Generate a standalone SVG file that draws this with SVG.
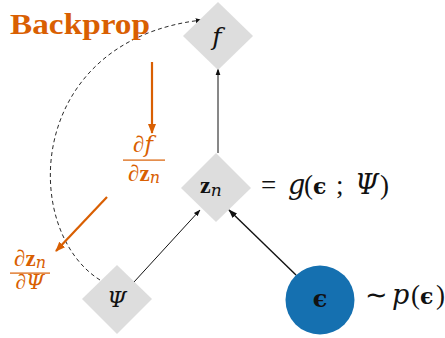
<svg xmlns="http://www.w3.org/2000/svg" width="445" height="338" viewBox="0 0 445 338">
<defs>
<style>
.dia{fill:#dddddd}
text{font-family:'Liberation Serif',serif}
.i{font-family:'DejaVu Serif',serif;font-style:italic}
.e{font-family:'DejaVu Serif',serif;font-weight:bold}
.edge{stroke:#111;fill:none}
.oe{stroke:#d95f02;stroke-width:2.2;fill:none}
</style>
<marker id="ah" viewBox="0 0 10 10" refX="9" refY="5" markerWidth="7" markerHeight="7" markerUnits="userSpaceOnUse" orient="auto"><path d="M0,1.5 L10,5 L0,8.5 Z" fill="#111"/></marker>
<marker id="ah2" viewBox="0 0 10 10" refX="9" refY="5" markerWidth="9" markerHeight="9" markerUnits="userSpaceOnUse" orient="auto"><path d="M0,1.5 L10,5 L0,8.5 Z" fill="#111"/></marker>
<marker id="oh" viewBox="0 0 10 10" refX="9" refY="5" markerWidth="10" markerHeight="10" markerUnits="userSpaceOnUse" orient="auto"><path d="M0,1 L10,5 L0,9 Z" fill="#d95f02"/></marker>
</defs>
<g id="connectors">
<line class="edge" x1="218" y1="153" x2="218" y2="69" stroke-width="1" marker-end="url(#ah)"/>
<line class="edge" x1="134" y1="282" x2="200" y2="210" stroke-width="1" marker-end="url(#ah)"/>
<line class="edge" x1="296" y1="275" x2="229" y2="210" stroke-width="1.4" marker-end="url(#ah2)"/>
<path class="edge" d="M100,280 C20,230 25,40 202,20" stroke-width="0.9" stroke-dasharray="4,3" marker-end="url(#ah)"/>
<line class="oe" x1="152" y1="62" x2="152" y2="133" marker-end="url(#oh)"/>
<line class="oe" x1="107" y1="197" x2="56" y2="251" marker-end="url(#oh)"/>
</g>
<g id="node-f">
<polygon class="dia" points="218,2 253,36 218,70 183,36"/>
<text x="217" y="45" font-size="25" text-anchor="middle" fill="#111"><tspan class="i">f</tspan></text>
</g>
<g id="node-zn">
<polygon class="dia" points="216,153 251,188 216,222 181,188"/>
<text x="200" y="193" font-size="24" fill="#111"><tspan font-weight="bold">z</tspan><tspan class="i" font-size="17" dy="3">n</tspan></text>
<text y="194" font-size="27" fill="#111"><tspan x="261">=</tspan><tspan class="i" x="288">g</tspan><tspan x="304">(</tspan><tspan class="e" x="313" font-size="22">ϵ</tspan><tspan x="336">;</tspan><tspan class="i" x="355">Ψ</tspan><tspan x="380">)</tspan></text>
</g>
<g id="node-psi">
<polygon class="dia" points="117,265 152,299 117,334 82,299"/>
<text x="117" y="307" font-size="22" text-anchor="middle" fill="#111"><tspan class="i">Ψ</tspan></text>
</g>
<g id="node-eps">
<circle cx="320" cy="300" r="34.5" fill="#1570b0"/>
<text x="320" y="307" font-size="24" text-anchor="middle" class="e" fill="#111">ϵ</text>
<text y="304" font-size="27" fill="#111"><tspan x="365">∼</tspan><tspan class="i" x="392">p</tspan><tspan x="411">(</tspan><tspan class="e" x="420" font-size="22">ϵ</tspan><tspan x="436">)</tspan></text>
</g>
<g id="labels">
<text x="10" y="34" font-size="29" font-weight="bold" textLength="140" lengthAdjust="spacingAndGlyphs" fill="#d95f02">Backprop</text>
<text x="143" y="152" font-size="23" text-anchor="middle" fill="#d95f02">∂<tspan class="i">f</tspan></text>
<rect x="123" y="159.5" width="42" height="1.2" fill="#d95f02"/>
<text x="144" y="181" font-size="23" text-anchor="middle" fill="#d95f02">∂<tspan font-weight="bold">z</tspan><tspan class="i" font-size="16" dy="2">n</tspan></text>
<text x="30" y="266" font-size="23" text-anchor="middle" fill="#d95f02">∂<tspan font-weight="bold">z</tspan><tspan class="i" font-size="16" dy="2">n</tspan></text>
<rect x="10" y="272.5" width="40" height="1.2" fill="#d95f02"/>
<text x="30" y="289" font-size="21" text-anchor="middle" fill="#d95f02">∂<tspan class="i">Ψ</tspan></text>
</g>
</svg>
